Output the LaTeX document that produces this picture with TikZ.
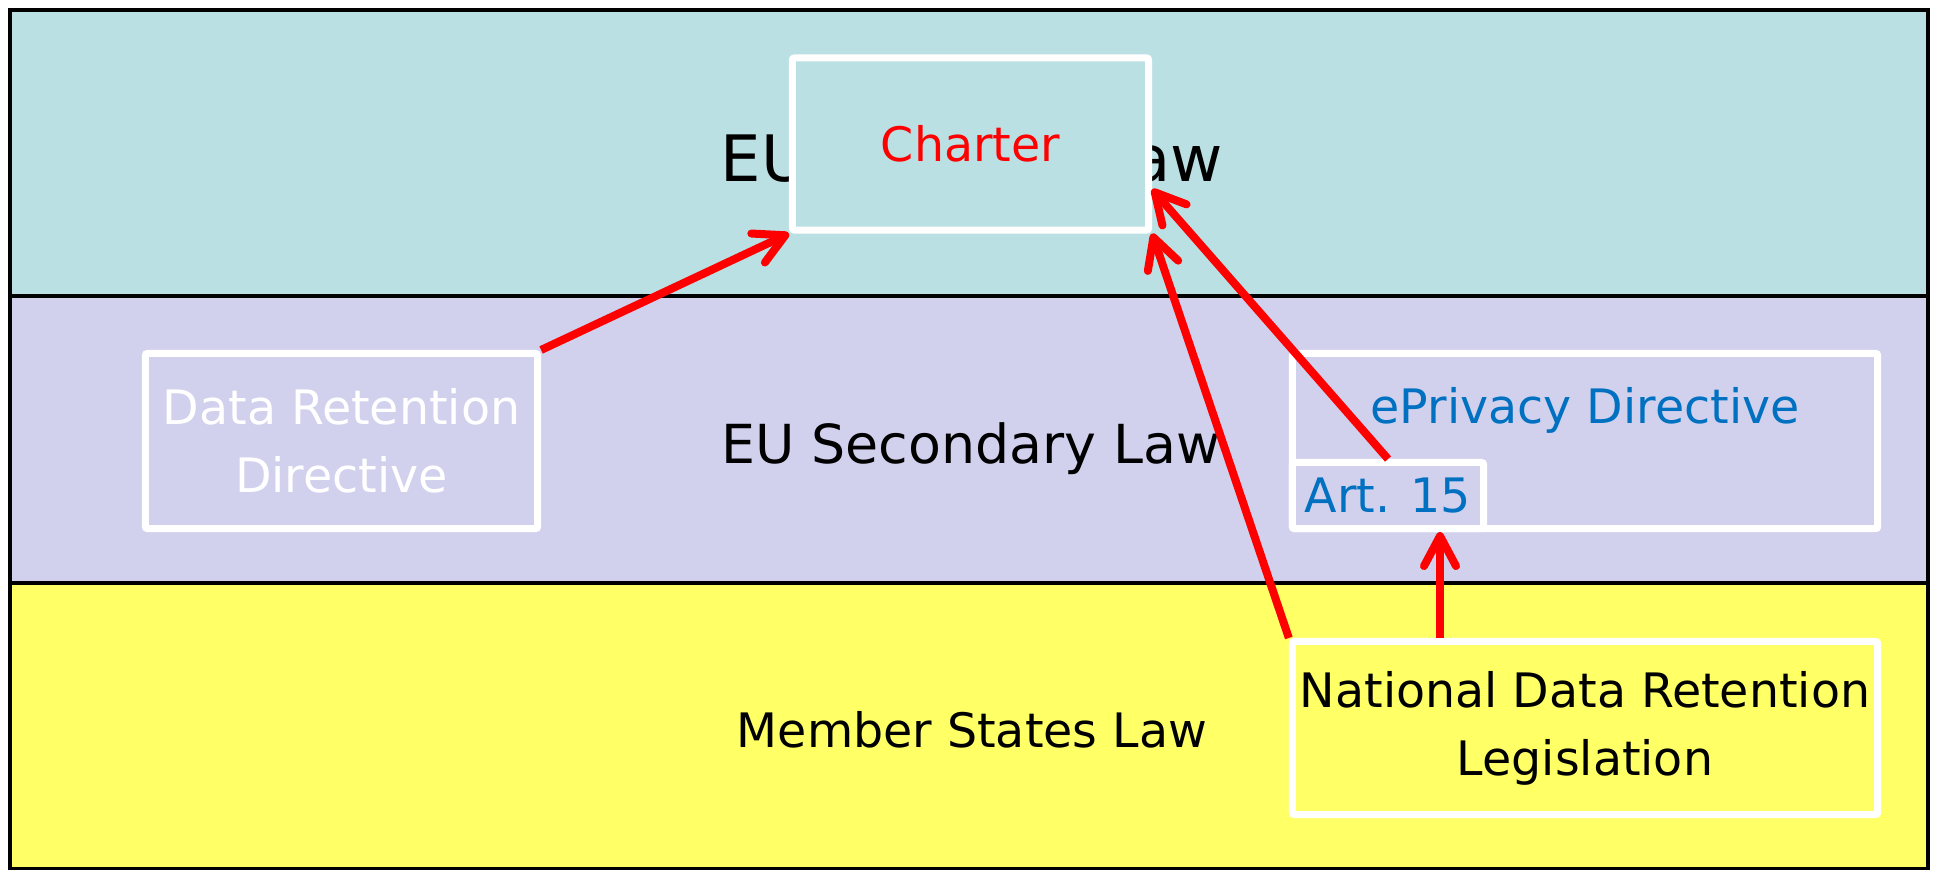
\documentclass[tikz,border=0pt]{standalone}
\usepackage{fontspec}
\setmainfont{DejaVu Sans}
\usetikzlibrary{arrows.meta,calc}
\definecolor{primaryband}{HTML}{BBE0E3}
\definecolor{secondaryband}{HTML}{D1D1EE}
\definecolor{nationalband}{HTML}{FFFF66}
\definecolor{linkblue}{HTML}{0070C0}
\begin{document}
\begin{tikzpicture}[x=0.01cm,y=-0.01cm,
  band/.style={draw=black, line width=0.045cm},
  bandtext/.style={anchor=base, inner sep=0pt},
  lawbox/.style={draw=white, line width=0.07cm, rounded corners=0.02cm,
    inner sep=0pt, align=center, font=\fontsize{13.5}{19.3}\selectfont},
  link/.style={draw=red, line width=0.08cm,
    -{Straight Barb[length=0.30cm,width=0.32cm,round]}}]
\useasboundingbox (0,0) rectangle (1934,869);
\fill[white] (0,0) rectangle (1934,869);

% the three layers of law
\path[band, fill=primaryband]   (10,10)  rectangle (1928,296);
\path[band, fill=secondaryband] (10,296) rectangle (1928,583);
\path[band, fill=nationalband]  (10,583) rectangle (1928,869);

\node[bandtext, font=\fontsize{18.2}{22}\selectfont] (primary) at (972,181) {EU Primary Law};
\node[bandtext, font=\fontsize{15.3}{18}\selectfont] (secondary) at (971,463) {EU Secondary Law};
\node[bandtext, font=\fontsize{13.5}{16}\selectfont] (national) at (972,747) {Member States Law};

% instruments
\node[lawbox, fill=primaryband, text=red, minimum width=3.56cm, minimum height=1.72cm]
  (charter) at (970.5,144) {Charter};
\node[lawbox, fill=secondaryband, text=white, minimum width=3.92cm, minimum height=1.75cm]
  (drd) at (341.5,441) {Data Retention\\Directive};
\node[lawbox, fill=secondaryband, text=linkblue, minimum width=5.85cm,
  text height=0.70cm, text depth=1.05cm]
  (eprivacy) at (1585,441) {ePrivacy Directive};
\node[lawbox, fill=secondaryband, text=linkblue, minimum width=1.91cm, minimum height=0.66cm]
  (art) at (1388,495.5) {Art. 15};
\node[lawbox, fill=nationalband, text=black, minimum width=5.85cm, minimum height=1.73cm]
  (ndrl) at (1585,728) {National Data Retention\\Legislation};

% relations
\coordinate (artlink) at (1440,0);
\draw[link] (drd.north east) -- (charter.south west);
\draw[link] (ndrl.north west) -- (charter.south east);
\draw[link] (art.north) -- (charter.-14);
\draw[link] (artlink |- ndrl.north) -- (artlink |- art.south);
\end{tikzpicture}
\end{document}
